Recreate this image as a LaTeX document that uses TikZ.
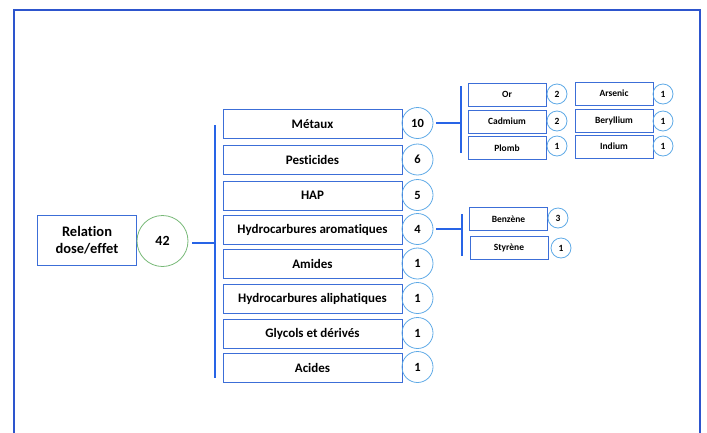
\documentclass[tikz,border=0pt]{standalone}
\usepackage{fontspec}
\setmainfont{Carlito}[Ligatures=NoCommon]
\definecolor{frameblue}{RGB}{45,85,205}
\definecolor{boxblue}{RGB}{60,110,215}
\definecolor{lineblue}{RGB}{40,100,230}
\definecolor{circblue}{RGB}{95,170,230}
\definecolor{circgreen}{RGB}{120,185,120}
\begin{document}
\begin{tikzpicture}[x=1pt,y=-1pt,
  framecol/.style={draw=frameblue,line width=2pt},
  bigbox/.style={draw=boxblue,line width=0.8pt,minimum width=179pt,minimum height=29pt,inner sep=0pt,font=\fontsize{13}{15}\selectfont\bfseries},
  subbox/.style={draw=boxblue,line width=0.8pt,minimum width=78pt,minimum height=23pt,inner sep=0pt,font=\fontsize{9.5}{11}\selectfont\bfseries},
  bignum/.style={circle,draw=circblue,line width=0.8pt,minimum size=31pt,inner sep=0pt,font=\fontsize{12.5}{14}\selectfont\bfseries},
  subnum/.style={circle,draw=circblue,line width=0.8pt,minimum size=20pt,inner sep=0pt,font=\fontsize{9.5}{10}\selectfont\bfseries},
  connline/.style={color=lineblue,line width=1.1pt}]
\useasboundingbox (0,0) rectangle (707,432);
\begin{scope}
\clip (0,0) rectangle (707,432);
\draw[framecol] (14,10) rectangle (700,445);
\end{scope}
% root
\node[draw=boxblue,line width=0.8pt,minimum width=99pt,minimum height=50pt,inner sep=0pt,align=center,font=\fontsize{14.5}{17}\selectfont\bfseries] (root) at (87,240) {Relation\\dose/effet};
\node[circle,draw=circgreen,line width=0.8pt,minimum size=51pt,inner sep=0pt,font=\fontsize{14}{16}\selectfont\bfseries] (c42) at (162.5,241) {42};
% main bar
\coordinate (mbT) at (215,125);
\coordinate (mbB) at (215,378);
\draw[connline] (mbT) -- (mbB);
\draw[connline] (c42.east) ++(4,2) -- (215,243);
% main boxes
\node[bigbox] (b1) at (312.5,124) {Métaux};
\node[bigbox] (b2) at (312.5,160) {Pesticides};
\node[bigbox] (b3) at (312.5,195.5) {HAP};
\node[bigbox] (b4) at (312.5,230) {Hydrocarbures aromatiques};
\node[bigbox] (b5) at (312.5,264) {Amides};
\node[bigbox] (b6) at (312.5,298.5) {Hydrocarbures aliphatiques};
\node[bigbox] (b7) at (312.5,333.5) {Glycols et dérivés};
\node[bigbox] (b8) at (312.5,367.5) {Acides};
\node[bignum] (n1) at (417.5,123) {10};
\node[bignum] (n2) at (417.5,159.5) {6};
\node[bignum] (n3) at (417.5,195) {5};
\node[bignum] (n4) at (417.5,229) {4};
\node[bignum] (n5) at (417.5,263.5) {1};
\node[bignum] (n6) at (417.5,298) {1};
\node[bignum] (n7) at (417.5,333) {1};
\node[bignum] (n8) at (417.5,367) {1};
% metaux sub bar
\coordinate (sbT) at (461,86);
\coordinate (sbB) at (461,153);
\draw[connline] (sbT) -- (sbB);
\draw[connline] (n1.east) ++(3,0) -- (461,123);
\node[subbox] (m1) at (507,94.5) {Or};
\node[subbox] (m2) at (507,121.5) {Cadmium};
\node[subbox] (m3) at (507,148) {Plomb};
\node[subnum] (k1) at (557,94) {2};
\node[subnum] (k2) at (557,121) {2};
\node[subnum] (k3) at (557,146) {1};
\node[subbox] (m4) at (614,93.5) {Arsenic};
\node[subbox] (m5) at (614,121) {Beryllium};
\node[subbox] (m6) at (614,146.5) {Indium};
\node[subnum] (k4) at (663,94) {1};
\node[subnum] (k5) at (663,121) {1};
\node[subnum] (k6) at (663,146) {1};
% aromatiques sub bar
\coordinate (abT) at (462,214);
\coordinate (abB) at (462,256);
\draw[connline] (abT) -- (abB);
\draw[connline] (n4.east) ++(3,0) -- (462,229);
\node[subbox] (a1) at (508.5,219) {Benzène};
\node[subbox] (a2) at (509,248) {Styrène};
\node[subnum] (ka1) at (558,218) {3};
\node[subnum] (ka2) at (561,248) {1};
\end{tikzpicture}
\end{document}
